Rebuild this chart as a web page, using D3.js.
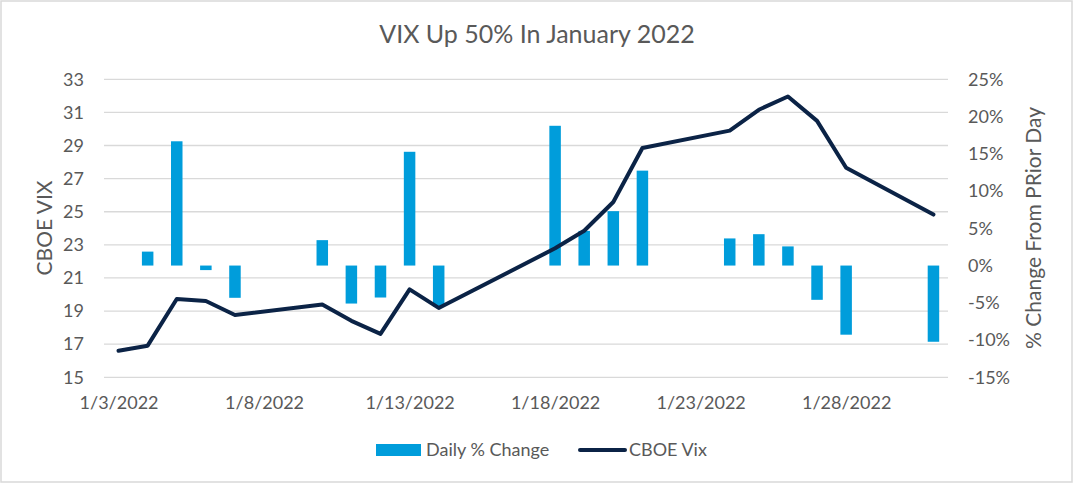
<!DOCTYPE html>
<html>
<head>
<meta charset="utf-8">
<script src="https://cdn.jsdelivr.net/npm/d3@7"></script>
<style>
  html, body { margin: 0; padding: 0; background: #fff; }
  svg { display: block; }
  text { font-family: Lato, "Open Sans", sans-serif; fill: #595959; }
</style>
</head>
<body>
<svg id="chart" width="1074" height="484"></svg>
<script>
// ---- data ----
const dates = ["2022-01-03","2022-01-04","2022-01-05","2022-01-06","2022-01-07",
  "2022-01-10","2022-01-11","2022-01-12","2022-01-13","2022-01-14",
  "2022-01-18","2022-01-19","2022-01-20","2022-01-21",
  "2022-01-24","2022-01-25","2022-01-26","2022-01-27","2022-01-28","2022-01-31"];
const vixClose = [16.60,16.91,19.73,19.61,18.76,19.40,18.41,17.62,20.31,19.19,
  22.79,23.85,25.59,28.85,29.90,31.16,31.96,30.49,27.66,24.83];
const dailyChange = [null,1.87,16.68,-0.61,-4.33,3.41,-5.10,-4.29,15.27,-5.51,
  18.76,4.65,7.30,12.74,3.64,4.21,2.57,-4.60,-9.28,-10.23];
const xTickLabels = ["1/3/2022","1/8/2022","1/13/2022","1/18/2022","1/23/2022","1/28/2022"];
const leftTicks = [15,17,19,21,23,25,27,29,31,33];
const rightTicks = [-15,-10,-5,0,5,10,15,20,25];
const titleText = "VIX Up 50% In January 2022";
const leftTitle = "CBOE VIX";
const rightTitle = "% Change From PRior Day";
const seriesNames = ["Daily % Change", "CBOE Vix"];

// ---- setup ----
const svg = d3.select("#chart");
const W = 1074, H = 484;
const plot = {left: 104, right: 948, top: 79.3, bottom: 377.3};
const barColor = "#009ddb";
const lineColor = "#0b2346";
const gridColor = "#d9d9d9";

const parse = d3.utcParse("%Y-%m-%d");
const fmtTick = d => (d.getUTCMonth()+1) + "/" + d.getUTCDate() + "/" + d.getUTCFullYear();
const pts = dates.map((d,i) => ({date: parse(d), vix: vixClose[i], chg: dailyChange[i]}));

const x = d3.scaleUtc()
  .domain([new Date(Date.UTC(2022,0,2,12)), new Date(Date.UTC(2022,0,31,12))])
  .range([plot.left, plot.right]);
const yL = d3.scaleLinear().domain([15,33]).range([plot.bottom, plot.top]);
const yR = d3.scaleLinear().domain([-15,25]).range([plot.bottom, plot.top]);

// border
svg.append("rect").attr("x",1).attr("y",1).attr("width",W-3).attr("height",H-3)
  .attr("fill","#fff").attr("stroke","#d9d9d9").attr("stroke-width",1.5);

// gridlines
svg.append("g").selectAll("line").data(leftTicks).join("line")
  .attr("x1", plot.left).attr("x2", plot.right)
  .attr("y1", d => yL(d)).attr("y2", d => yL(d))
  .attr("stroke", gridColor).attr("stroke-width", 1.3);

// left axis
const axL = svg.append("g").attr("transform", `translate(${plot.left},0)`)
  .call(d3.axisLeft(yL).tickValues(leftTicks).tickSize(0).tickPadding(20).tickFormat(d3.format("d")));
axL.select(".domain").remove();
axL.selectAll("text").style("font-size","18px").attr("fill","#595959");

// right axis
const axR = svg.append("g").attr("transform", `translate(${plot.right},0)`)
  .call(d3.axisRight(yR).tickValues(rightTicks).tickSize(0).tickPadding(20).tickFormat(d => d + "%"));
axR.select(".domain").remove();
axR.selectAll("text").style("font-size","18px").attr("fill","#595959");

// bottom axis
const tickDates = xTickLabels.map(s => { const [m,d,y] = s.split("/").map(Number); return new Date(Date.UTC(y,m-1,d)); });
const axB = svg.append("g").attr("transform", `translate(0,${plot.bottom})`)
  .call(d3.axisBottom(x).tickValues(tickDates).tickSize(0).tickPadding(19).tickFormat(fmtTick));
axB.select(".domain").remove();
axB.selectAll("text").style("font-size","18px").attr("fill","#595959");

// bars
const barW = 11.5;
svg.append("g").selectAll("rect").data(pts.filter(p => p.chg !== null)).join("rect")
  .attr("x", p => x(p.date) - barW/2)
  .attr("width", barW)
  .attr("y", p => Math.min(yR(p.chg), yR(0)))
  .attr("height", p => Math.abs(yR(p.chg) - yR(0)))
  .attr("fill", barColor);

// line
const line = d3.line().x(p => x(p.date)).y(p => yL(p.vix));
svg.append("path").datum(pts).attr("d", line)
  .attr("fill","none").attr("stroke", lineColor).attr("stroke-width", 4)
  .attr("stroke-linejoin","round").attr("stroke-linecap","round");

// title
svg.append("text").attr("x", 537).attr("y", 43).attr("text-anchor","middle")
  .style("font-size","25px").text(titleText);

// axis titles
svg.append("text").attr("transform","translate(52,228) rotate(-90)").attr("text-anchor","middle")
  .style("font-size","21px").text(leftTitle);
svg.append("text").attr("transform","translate(1041,228) rotate(-90)").attr("text-anchor","middle")
  .style("font-size","21px").text(rightTitle);

// legend
const lg = svg.append("g");
lg.append("rect").attr("x",376).attr("y",444).attr("width",45).attr("height",12).attr("fill",barColor);
lg.append("text").attr("x",426).attr("y",456).style("font-size","18px").text(seriesNames[0]);
lg.append("line").attr("x1",580).attr("x2",625).attr("y1",450).attr("y2",450)
  .attr("stroke",lineColor).attr("stroke-width",4).attr("stroke-linecap","round");
lg.append("text").attr("x",629).attr("y",456).style("font-size","18px").text(seriesNames[1]);
</script>
</body>
</html>
